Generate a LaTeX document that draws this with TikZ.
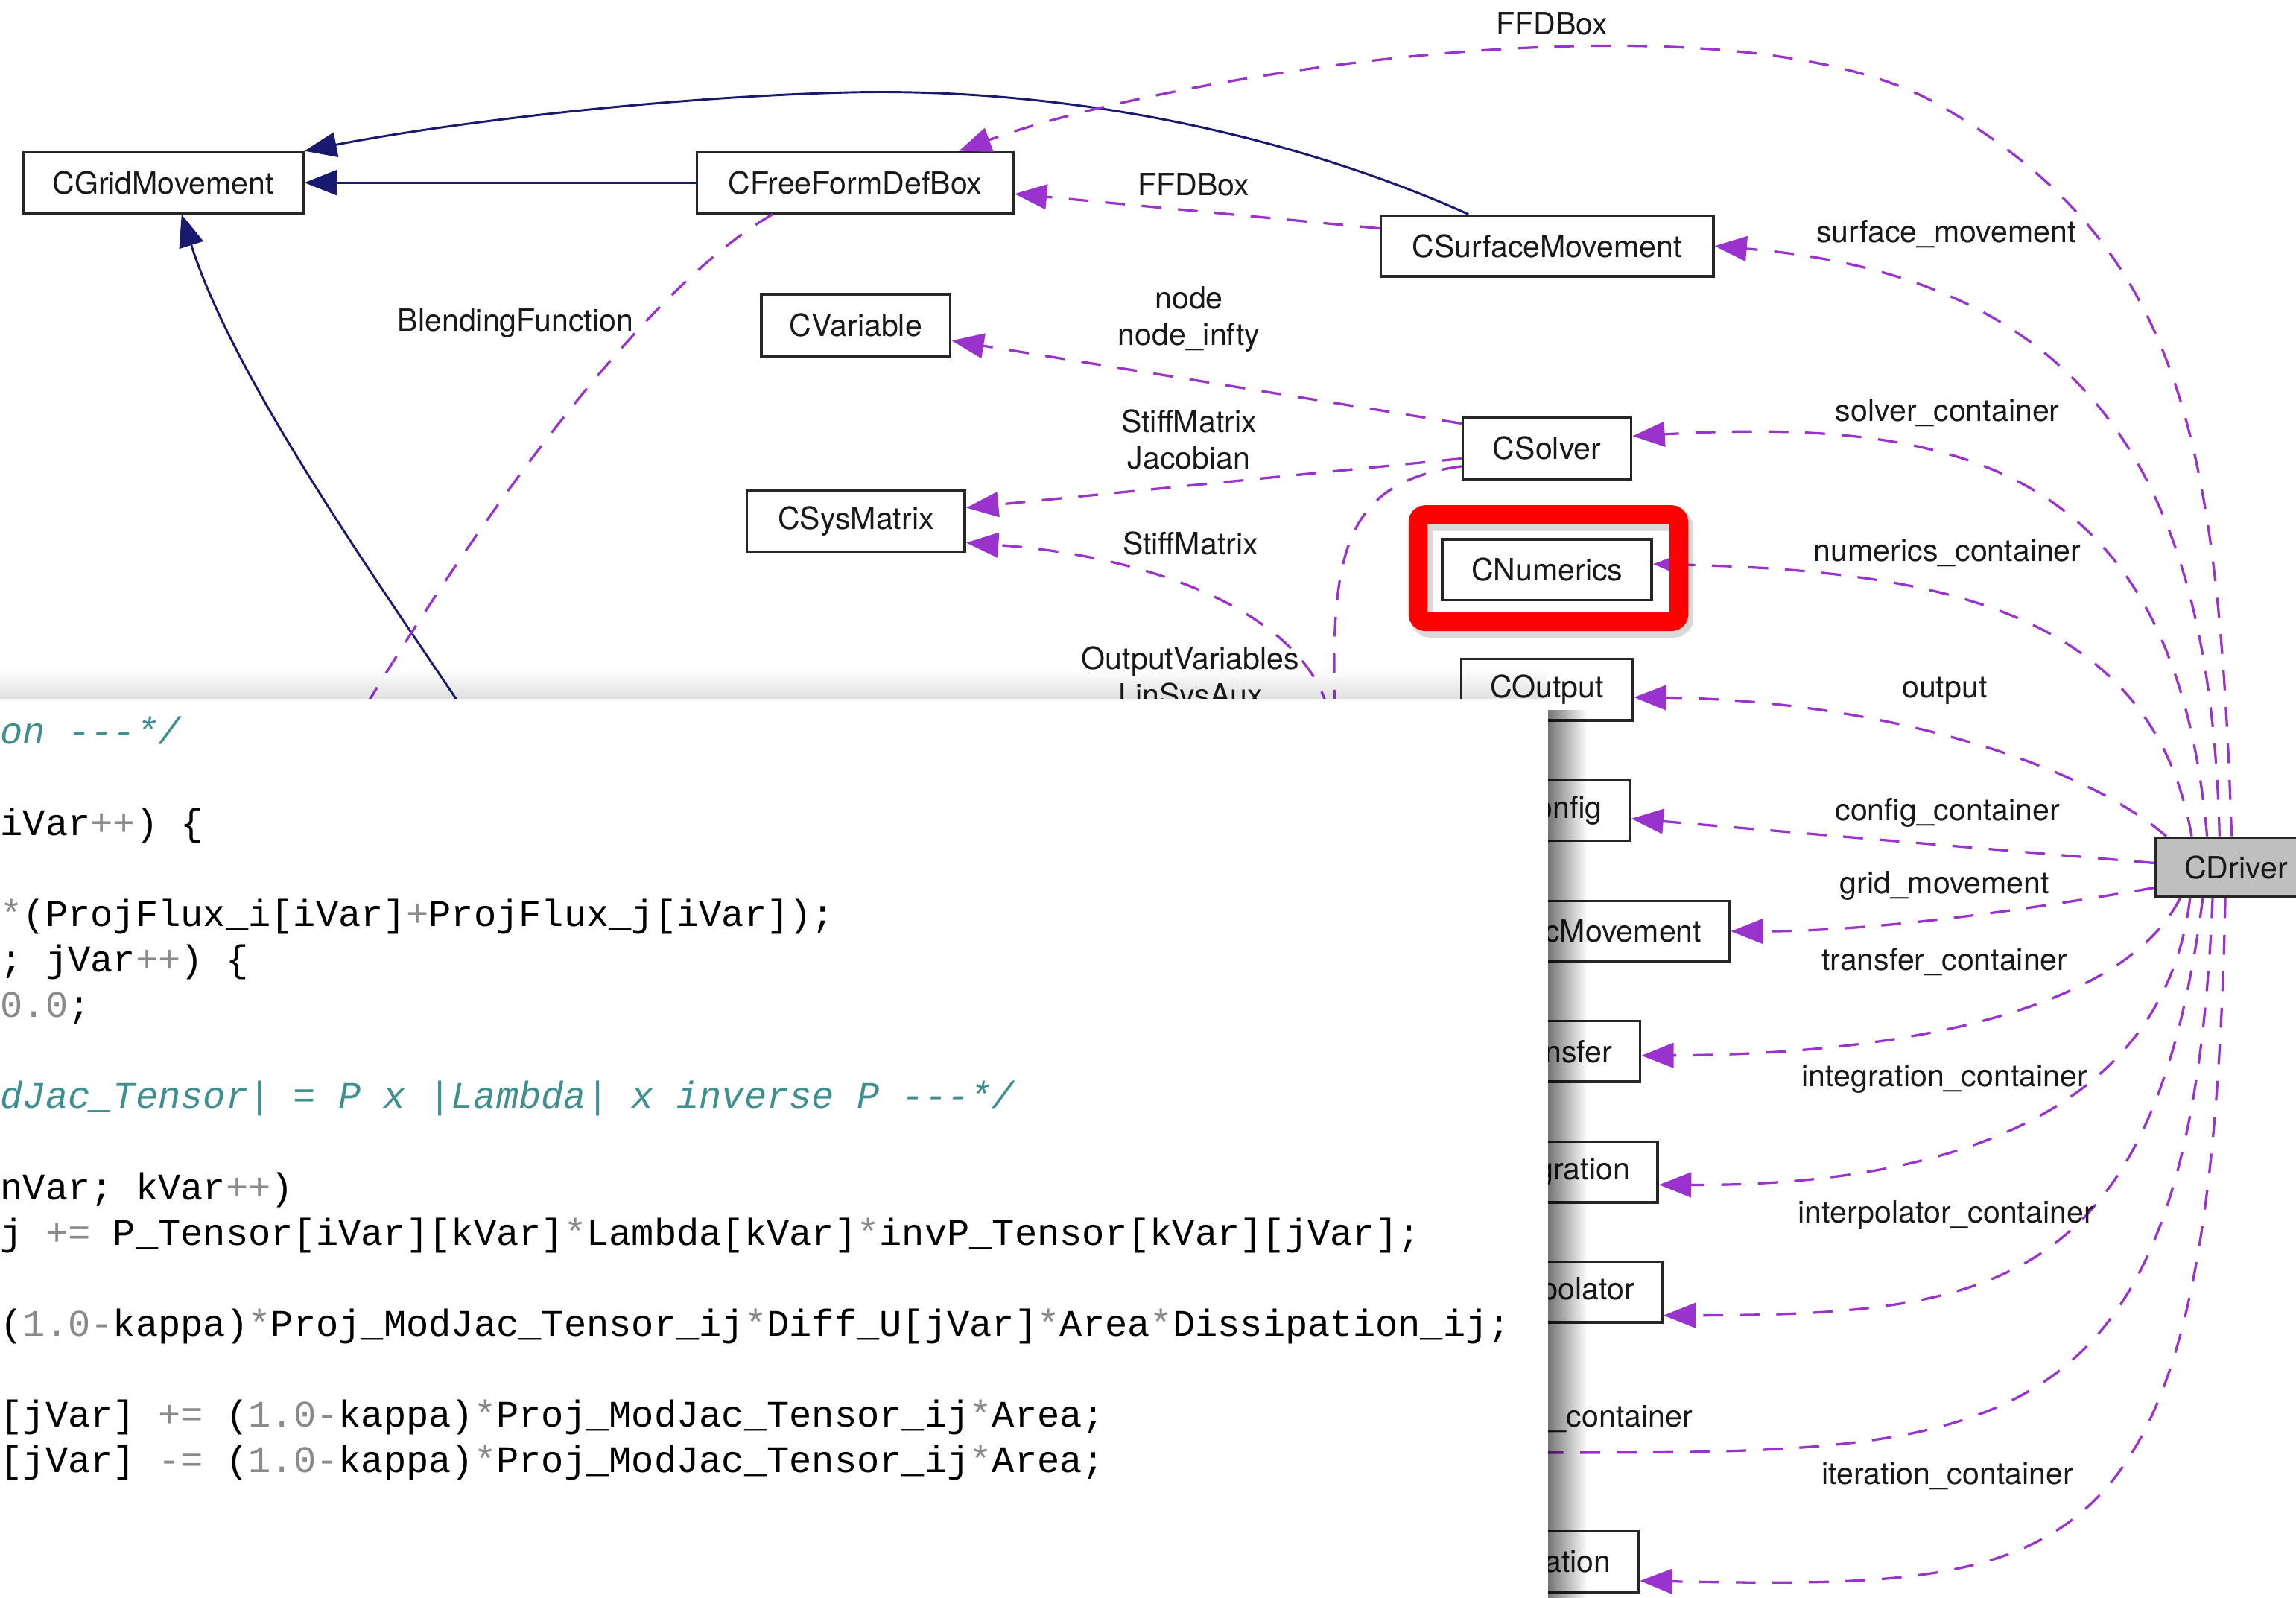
\documentclass[tikz,border=0pt]{standalone}
\usepackage{fontspec}
\setmainfont{TeX Gyre Heros}
\setmonofont{Liberation Mono}
\usetikzlibrary{arrows.meta,fadings}
\definecolor{memberpurple}{HTML}{9A32CD}
\definecolor{basenavy}{HTML}{191970}
\definecolor{commentteal}{HTML}{3F8F8F}
\definecolor{numgray}{HTML}{8A8A8A}
\definecolor{drivergray}{HTML}{BFBFBF}
\newcommand\lblfont{\fontsize{11.9}{14.2}\selectfont}
\newcommand\codefont{\ttfamily\fontsize{14.6}{17}\selectfont}
\newcommand\cgr[1]{{\color{numgray}#1}}
\newcommand\ccm[1]{{\color{commentteal}\itshape #1}}
\begin{document}
\begin{tikzpicture}[x=0.02cm,y=-0.02cm,
	cls/.style={draw=black!85,line width=1.05pt,fill=white,text=black!90,inner sep=0pt,minimum height=0.83cm,font=\lblfont},
	cut/.style={cls,text width=2.5cm,align=right,inner xsep=0.38cm},
	lbl/.style={inner sep=0pt,text=black!90,font=\lblfont,align=center},
	member/.style={draw=memberpurple,line width=0.95pt,dash pattern=on 7.7pt off 6.5pt},
	use/.style={member,-{Triangle[length=0.44cm,width=0.34cm]}},
	inherit/.style={draw=basenavy,line width=0.85pt,-{Triangle[length=0.44cm,width=0.34cm]}},
	code/.style={anchor=base west,inner sep=0pt,font=\codefont}]
	\path[use as bounding box,fill=white] (0,0) rectangle (1568,1091);
	\node[cls,minimum width=3.82cm] (CGridMovement) at (111.5,124.75) {CGridMovement};
	\node[cls,minimum width=4.32cm] (CFreeFormDefBox) at (584,124.75) {CFreeFormDefBox};
	\node[cls,minimum width=2.58cm,minimum height=0.85cm] (CVariable) at (584.5,222.3) {CVariable};
	\node[cls,minimum width=2.98cm] (CSysMatrix) at (584.5,356) {CSysMatrix};
	\node[cls,minimum width=4.54cm] (CSurfaceMovement) at (1056.5,168) {CSurfaceMovement};
	\node[cls,minimum width=2.3cm,minimum height=0.85cm] (CSolver) at (1056.5,306) {CSolver};
	\node[cls,minimum width=2.86cm] (CNumerics) at (1056.5,389) {CNumerics};
	\node[cls,minimum width=2.34cm,minimum height=0.84cm] (COutput) at (1056.5,471) {COutput};
	\node[cut,anchor=east] (CConfig) at (1114,553.3) {onfig};
	\node[cut,anchor=east] (CVolumetricMovement) at (1182,636) {cMovement};
	\node[cut,anchor=east] (CTransfer) at (1121,718) {nsfer};
	\node[cut,anchor=east] (CIntegration) at (1133,800.4) {gration};
	\node[cut,anchor=east] (CInterpolator) at (1136,882.3) {polator};
	\node[cut,anchor=east] (CIteration) at (1120,1066.5) {ation};
	\node[cls,fill=drivergray,minimum width=2.2cm,minimum height=0.81cm] (CDriver) at (1527,592.3) {CDriver};
	\coordinate (blendEnd) at (245,490);
	\coordinate (vmBase) at (320,490);
	\coordinate (stiffStart) at (907,485);
	\coordinate (sysVecEnd) at (912,500);
	\coordinate (geoEnd) at (1040,992);
	\draw[inherit] (CFreeFormDefBox) -- (CGridMovement);
	\draw[inherit] (CSurfaceMovement.158) .. controls (900,100) and (750,60) .. (584,63) .. controls (450,66) and (300,85) .. (CGridMovement.north east);
	\draw[inherit] (vmBase) .. controls (260,400) and (160,260) .. (CGridMovement.300);
	\draw[member] (CFreeFormDefBox.201) .. controls (460,185) and (360,300) .. (blendEnd);
	\draw[use] (CSurfaceMovement.174.5) -- (CFreeFormDefBox.356);
	\draw[use] (CSolver.164) -- (CVariable.351);
	\draw[use] (CSolver.187) -- (CSysMatrix.7);
	\draw[member] (CSolver.192) .. controls (915,330) and (908,380) .. (sysVecEnd);
	\draw[use] (stiffStart) .. controls (890,420) and (790,380) .. (CSysMatrix.349);
	\draw[use] (CDriver.98) .. controls (1515,300) and (1490,170) .. (1330,75) .. controls (1190,-12) and (800,50) .. (CFreeFormDefBox.17);
	\draw[use] (CDriver.118) .. controls (1510,330) and (1430,190) .. (CSurfaceMovement.east);
	\draw[use] (CDriver.133) .. controls (1485,320) and (1340,285) .. (CSolver.8);
	\draw[use] (CDriver.145) .. controls (1470,420) and (1330,390) .. (CNumerics.3);
	\draw[use] (CDriver.156) .. controls (1420,520) and (1280,478) .. (COutput.355);
	\draw[use] (CDriver.177) -- (CConfig.356);
	\draw[use] (CDriver.194) .. controls (1380,622) and (1280,636) .. (CVolumetricMovement.east);
	\draw[use] (CDriver.209) .. controls (1450,690) and (1300,720) .. (CTransfer.358);
	\draw[use] (CDriver.214) .. controls (1478,760) and (1330,810) .. (CIntegration.354);
	\draw[use] (CDriver.223) .. controls (1470,880) and (1360,898) .. (CInterpolator.349);
	\draw[member] (CDriver.233) .. controls (1495,1000) and (1360,992) .. (geoEnd);
	\draw[use] (CDriver.251) .. controls (1510,1080) and (1420,1085) .. (CIteration.351);
	\node[lbl] (lFFDBoxTop) at (1060,16) {FFDBox};
	\node[lbl] (lFFDBox) at (815,126) {FFDBox};
	\node[lbl] (lBlending) at (352,221) {BlendingFunction};
	\node[lbl] (lNode) at (812,218) {node\\node\_infty};
	\node[lbl] (lStiffJac) at (812,300) {StiffMatrix\\Jacobian};
	\node[lbl] (lStiff) at (813,371) {StiffMatrix};
	\node[lbl] (lOutputVar) at (813,464) {OutputVariables\\LinSysAux};
	\node[lbl] (lSurface) at (1329,160) {surface\_movement};
	\node[lbl] (lSolver) at (1330,282) {solver\_container};
	\node[lbl] (lNumerics) at (1330,378) {numerics\_container};
	\node[lbl] (lOutput) at (1328,472) {output};
	\node[lbl] (lConfig) at (1330,555) {config\_container};
	\node[lbl] (lGrid) at (1328,605) {grid\_movement};
	\node[lbl] (lTransfer) at (1328,657) {transfer\_container};
	\node[lbl] (lIntegration) at (1328,737) {integration\_container};
	\node[lbl] (lInterp) at (1329,830) {interpolator\_container};
	\node[lbl] (lGeo) at (1107,969) {\_container};
	\node[lbl] (lIteration) at (1330,1008) {iteration\_container};
	\draw[black,opacity=0.15,line width=0.3cm,rounded corners=0.12cm] (971,355) rectangle (1149,428);
	\draw[red,line width=0.26cm,rounded corners=0.1cm] (968.5,351.5) rectangle (1146.5,424.5);
	\fill[black,opacity=0.55,path fading=east] (1057,485) rectangle (1084,1100);
	\fill[black,opacity=0.12,path fading=north] (-10,457) rectangle (1057,477);
	\fill[white] (-10,477) rectangle (1057,1100);
	\node[code] (c0) at (0,508.2) {\ccm{on ---*/}};
	\node[code] (c2) at (0,570.4) {iVar\cgr{++}) \{};
	\node[code] (c4) at (0,632.6) {\cgr{*}(ProjFlux\_i[iVar]\cgr{+}ProjFlux\_j[iVar]);};
	\node[code] (c5) at (0,663.7) {; jVar\cgr{++}) \{};
	\node[code] (c6) at (0,694.8) {\cgr{0.0};};
	\node[code] (c8) at (0,757) {\ccm{dJac\_Tensor| = P x |Lambda| x inverse P ---*/}};
	\node[code] (c10) at (0,819.2) {nVar; kVar\cgr{++})};
	\node[code] (c11) at (0,850.3) {j \cgr{+=} P\_Tensor[iVar][kVar]\cgr{*}Lambda[kVar]\cgr{*}invP\_Tensor[kVar][jVar];};
	\node[code] (c13) at (0,912.5) {(\cgr{1.0-}kappa)\cgr{*}Proj\_ModJac\_Tensor\_ij\cgr{*}Diff\_U[jVar]\cgr{*}Area\cgr{*}Dissipation\_ij;};
	\node[code] (c15) at (0,974.7) {[jVar] \cgr{+=} (\cgr{1.0-}kappa)\cgr{*}Proj\_ModJac\_Tensor\_ij\cgr{*}Area;};
	\node[code] (c16) at (0,1005.8) {[jVar] \cgr{-=} (\cgr{1.0-}kappa)\cgr{*}Proj\_ModJac\_Tensor\_ij\cgr{*}Area;};
\end{tikzpicture}
\end{document}
